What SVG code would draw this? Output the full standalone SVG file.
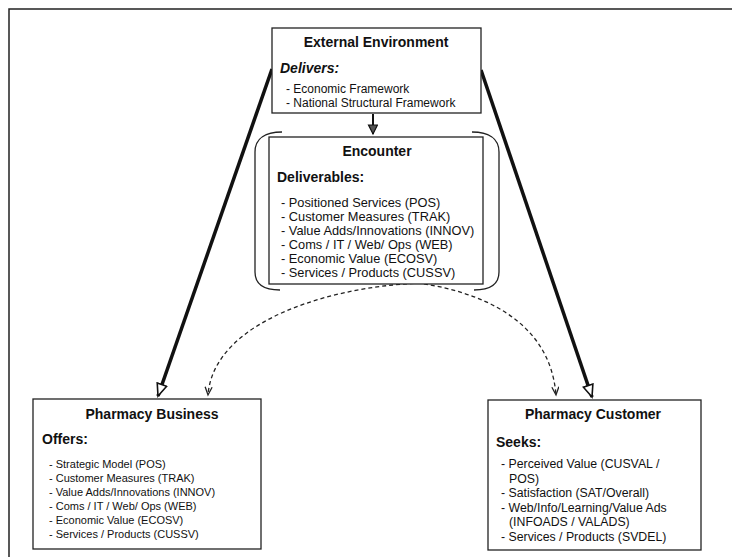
<svg xmlns="http://www.w3.org/2000/svg" width="732" height="557" viewBox="0 0 732 557">
<defs>
<style>
text{font-family:"Liberation Sans",Arial,sans-serif;fill:#111}
.box{fill:#fff;stroke:#222;stroke-width:1.3}
.title{font-size:14px;font-weight:bold;text-anchor:middle}
.head{font-size:14px;font-weight:bold}
.ext{font-size:12px}
.enc{font-size:12.8px}
.bus{font-size:11px}
.cus{font-size:12.3px}
.thick{fill:none;stroke:#111;stroke-width:3.5}
.dash{fill:none;stroke:#222;stroke-width:1.3;stroke-dasharray:4 3}
</style>
<marker id="ah" markerUnits="userSpaceOnUse" markerWidth="16" markerHeight="14" refX="13" refY="6" orient="auto">
<path d="M1,1 L13,6 L1,11 Z" fill="#fff" stroke="#111" stroke-width="1.6"/>
</marker>
<marker id="ad" markerUnits="userSpaceOnUse" markerWidth="12" markerHeight="10" refX="9" refY="4" orient="auto">
<path d="M1,0.5 L9,4 L1,7.5" fill="none" stroke="#222" stroke-width="1.3"/>
</marker>
<marker id="as" markerUnits="userSpaceOnUse" markerWidth="14" markerHeight="12" refX="10" refY="5" orient="auto">
<path d="M1,0.5 L10,5 L1,9.5 Z" fill="#555" stroke="#111" stroke-width="1.2"/>
</marker>
</defs>
<rect width="732" height="557" fill="#fff"/>
<path d="M9,557 L9,9 L732,9" fill="none" stroke="#222" stroke-width="1.5"/>

<g id="connectors">
<path class="thick" d="M272,69 L158,396" marker-end="url(#ah)"/>
<path class="thick" d="M481,70 L592,397" marker-end="url(#ah)"/>
<path d="M373,114 L373,134" fill="none" stroke="#111" stroke-width="2" marker-end="url(#as)"/>
<path class="dash" d="M428,283 C340,284 214,318 208,395" marker-end="url(#ad)"/>
<path class="dash" d="M410,282 C480,290 550,320 556,395" marker-end="url(#ad)"/>
</g>

<g id="external-environment">
<rect class="box" x="272" y="28" width="209" height="85"/>
<text class="title" x="376" y="47">External Environment</text>
<text class="head" x="280" y="73" font-style="italic">Delivers:</text>
<text class="ext" x="286" y="93">- Economic Framework</text>
<text class="ext" x="286" y="107">- National Structural Framework</text>
</g>

<g id="encounter">
<path d="M282,132 C266,132 255,138 255,152 L255,272 C255,284 264,290 280,290" fill="none" stroke="#222" stroke-width="1.3"/>
<path d="M472,132 C488,132 499,138 499,152 L499,272 C499,284 490,290 474,290" fill="none" stroke="#222" stroke-width="1.3"/>
<rect class="box" x="269" y="137" width="214" height="147"/>
<text class="title" x="377" y="156">Encounter</text>
<text class="head" x="277" y="182" font-size="15">Deliverables:</text>
<text class="enc" x="281" y="207">- Positioned Services (POS)</text>
<text class="enc" x="281" y="221">- Customer Measures (TRAK)</text>
<text class="enc" x="281" y="235">- Value Adds/Innovations (INNOV)</text>
<text class="enc" x="281" y="249">- Coms / IT / Web/ Ops (WEB)</text>
<text class="enc" x="281" y="263">- Economic Value (ECOSV)</text>
<text class="enc" x="281" y="277">- Services / Products (CUSSV)</text>
</g>

<g id="pharmacy-business">
<rect class="box" x="33" y="399" width="228" height="150"/>
<text class="title" x="152" y="419">Pharmacy Business</text>
<text class="head" x="42" y="444">Offers:</text>
<text class="bus" x="49" y="468">- Strategic Model (POS)</text>
<text class="bus" x="49" y="482">- Customer Measures (TRAK)</text>
<text class="bus" x="49" y="496">- Value Adds/Innovations (INNOV)</text>
<text class="bus" x="49" y="510">- Coms / IT / Web/ Ops (WEB)</text>
<text class="bus" x="49" y="524">- Economic Value (ECOSV)</text>
<text class="bus" x="49" y="538">- Services / Products (CUSSV)</text>
</g>

<g id="pharmacy-customer">
<rect class="box" x="488" y="400" width="213" height="150"/>
<text class="title" x="593" y="419">Pharmacy Customer</text>
<text class="head" x="496" y="447">Seeks:</text>
<text class="cus" x="501" y="468">- Perceived Value (CUSVAL /</text>
<text class="cus" x="509" y="483">POS)</text>
<text class="cus" x="501" y="497">- Satisfaction (SAT/Overall)</text>
<text class="cus" x="501" y="512">- Web/Info/Learning/Value Ads</text>
<text class="cus" x="509" y="526">(INFOADS / VALADS)</text>
<text class="cus" x="501" y="541">- Services / Products (SVDEL)</text>
</g>
</svg>
